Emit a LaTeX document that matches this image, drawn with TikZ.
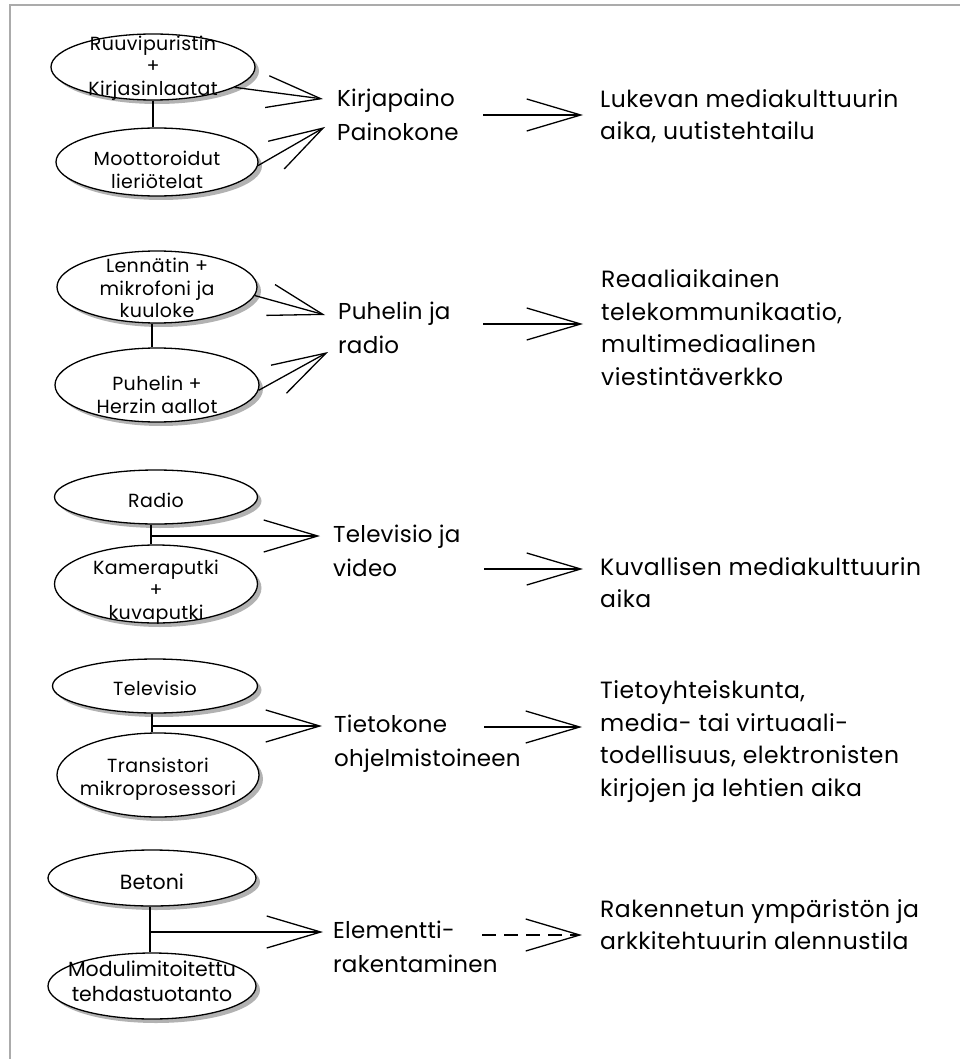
\documentclass[tikz,border=0pt]{standalone}
\usepackage{fontspec}
\setmainfont{Poppins}
\newfontfamily\ovalfont[LetterSpace=2]{Poppins}
\newfontfamily\midfont[LetterSpace=1]{Poppins}
\newfontfamily\resfont[LetterSpace=2]{Poppins}
\newfontfamily\plainfont{Poppins}
\usetikzlibrary{shapes.geometric,arrows.meta,shadows}

\begin{document}
\begin{tikzpicture}[x=1pt,y=-1pt,
  oval/.style={ellipse, draw=black, line width=1.3pt, fill=white, inner sep=0pt,
    drop shadow={shadow xshift=4pt, shadow yshift=-4pt, fill=black!30, opacity=1}},
  ovaltext/.style={align=center, inner sep=0pt, font=\ovalfont\fontsize{19}{22.5}\selectfont},
  ovaltextb/.style={align=center, inner sep=0pt, font=\plainfont\fontsize{20.5}{25}\selectfont},
  midtext/.style={align=left, anchor=west, inner sep=0pt, font=\midfont\fontsize{23}{34}\selectfont},
  restext/.style={align=left, anchor=west, inner sep=0pt, font=\resfont\fontsize{23.5}{32.5}\selectfont},
  conn/.style={line width=1.3pt},
  vtip/.style={line width=1.3pt, -{Straight Barb[length=54pt,width=32pt]}},
]
\useasboundingbox (0,0) rectangle (960,1059);

% frame lines
\draw[black!33, line width=1.5pt] (10,1059) -- (10,5) -- (960,5);

% ---------- printing ----------
\node[oval, minimum width=204pt, minimum height=66pt] (e1) at (153,67) {};
\node[ovaltext] (t1) at (153,68) {Ruuvipuristin\\+\\Kirjasinlaatat};
\node[oval, minimum width=202pt, minimum height=68pt] (e2) at (157,162) {};
\node[ovaltext] (t2) at (157,170) {Moottoroidut\\lieriötelat};
\coordinate (j1) at (153,0);
\draw[conn] (e1.south -| j1) -- (e2.north -| j1);
\node[midtext] (m1) at (337,117) {\strut Kirjapaino\\\strut Painokone};
\coordinate (a1) at (323,99);
\coordinate (a2) at (325,127);
\draw[vtip] (e1.-14) -- (a1);
\draw[vtip] (e2.-2) -- (a2);
\node[restext] (r1) at (600,117) {\strut Lukevan mediakulttuurin\\\strut aika, uutistehtailu};
\coordinate (s1) at (483,115);
\draw[vtip, shorten >=17pt] (s1) -- (s1 -| r1.west);

% ---------- telephone and radio ----------
\node[oval, minimum width=200pt, minimum height=72pt] (e3) at (157,287) {};
\node[ovaltext] (t3) at (157,288) {Lennätin +\\mikrofoni ja\\kuuloke};
\node[oval, minimum width=204pt, minimum height=74pt] (e4) at (157,385) {};
\node[ovaltext] (t4) at (157,395) {Puhelin +\\Herzin aallot};
\coordinate (j2) at (152,0);
\draw[conn] (e3.south -| j2) -- (e4.north -| j2);
\node[midtext] (m2) at (338,330) {\strut Puhelin ja\\\strut radio};
\coordinate (a3) at (325,315);
\coordinate (a4) at (328,352);
\draw[vtip] (e3.-5) -- (a3);
\draw[vtip] (e4.-3) -- (a4);
\node[restext] (r2) at (601,330) {\strut Reaaliaikainen\\\strut telekommunikaatio,\\\strut multimediaalinen\\\strut viestintäverkko};
\coordinate (s2) at (483,324);
\draw[vtip, shorten >=18pt] (s2) -- (s2 -| r2.west);

% ---------- television and video ----------
\node[oval, minimum width=203pt, minimum height=54pt] (e5) at (156,497) {};
\node[ovaltext] (t5) at (156,500) {Radio};
\node[oval, minimum width=203pt, minimum height=78pt] (e6) at (156,584) {};
\node[ovaltext] (t6) at (156,592) {Kameraputki\\+\\kuvaputki};
\coordinate (j3) at (151,536);
\draw[conn] (e5.south -| j3) -- (e6.north -| j3);
\node[midtext] (m3) at (333,553) {\strut Televisio ja\\\strut video};
\draw[vtip, shorten >=13pt] (j3) -- (j3 -| m3.west);
\node[restext] (r3) at (600,585) {\strut Kuvallisen mediakulttuurin\\\strut aika};
\coordinate (s3) at (484,569);
\draw[vtip, shorten >=17pt] (s3) -- (s3 -| r3.west);

% ---------- computer ----------
\node[oval, minimum width=205pt, minimum height=54pt] (e7) at (155,686) {};
\node[ovaltext] (t7) at (155,688) {Televisio};
\node[oval, minimum width=202pt, minimum height=84pt] (e8) at (158,775) {};
\node[ovaltext] (t8) at (158,779) {Transistori\\mikroprosessori};
\coordinate (j4) at (152,726);
\draw[conn] (e7.south -| j4) -- (e8.north -| j4);
\node[midtext] (m4) at (334,743) {\strut Tietokone\\\strut ohjelmistoineen};
\draw[vtip, shorten >=12pt] (j4) -- (j4 -| m4.west);
\node[restext] (r4) at (600,741) {\strut Tietoyhteiskunta,\\\strut media- tai virtuaali-\\\strut todellisuus, elektronisten\\\strut kirjojen ja lehtien aika};
\coordinate (s4) at (484,727);
\draw[vtip, shorten >=18pt] (s4) -- (s4 -| r4.west);

% ---------- prefabrication ----------
\node[oval, minimum width=208pt, minimum height=56pt] (e9) at (152,878) {};
\node[ovaltextb] (t9) at (152,882) {Betoni};
\node[oval, minimum width=208pt, minimum height=66pt] (e10) at (152,986) {};
\node[ovaltextb] (t10) at (152,981) {Modulimitoitettu\\tehdastuotanto};
\coordinate (j5) at (150,932);
\draw[conn] (e9.south -| j5) -- (e10.north -| j5);
\node[midtext] (m5) at (333,949) {\strut Elementti-\\\strut rakentaminen};
\draw[vtip, shorten >=10pt] (j5) -- (j5 -| m5.west);
\node[restext] (r5) at (600,927) {\strut Rakennetun ympäristön ja\\\strut arkkitehtuurin alennustila};
\coordinate (s5) at (482,935);
\draw[vtip, dash pattern=on 14pt off 8pt, shorten >=18pt] (s5) -- (s5 -| r5.west);
\end{tikzpicture}
\end{document}
